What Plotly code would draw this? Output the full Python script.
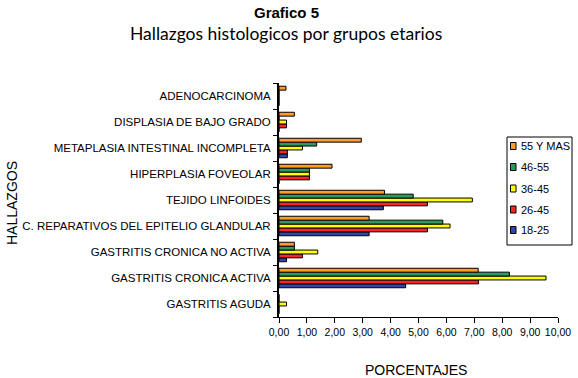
import plotly.graph_objects as go

categories = [
    "GASTRITIS AGUDA",
    "GASTRITIS CRONICA ACTIVA",
    "GASTRITIS CRONICA NO ACTIVA",
    "C. REPARATIVOS DEL EPITELIO GLANDULAR",
    "TEJIDO LINFOIDES",
    "HIPERPLASIA FOVEOLAR",
    "METAPLASIA INTESTINAL INCOMPLETA",
    "DISPLASIA DE BAJO GRADO",
    "ADENOCARCINOMA",
]

g_18_25 = [0.0, 4.54, 0.27, 3.23, 3.74, 0.0, 0.30, 0.0, 0.0]
g_26_45 = [0.0, 7.15, 0.84, 5.32, 5.32, 1.09, 0.30, 0.27, 0.0]
g_36_45 = [0.27, 9.57, 1.39, 6.13, 6.93, 1.09, 0.84, 0.27, 0.0]
g_46_55 = [0.0, 8.26, 0.55, 5.87, 4.81, 1.09, 1.35, 0.0, 0.0]
g_55_mas = [0.0, 7.14, 0.55, 3.23, 3.78, 1.90, 2.95, 0.55, 0.25]

series_names = ["18-25", "26-45", "36-45", "46-55", "55 Y MAS"]
series_colors = ["#3344AA", "#FF2424", "#FFFF00", "#2E9A60", "#FF9A2E"]
series_values = [g_18_25, g_26_45, g_36_45, g_46_55, g_55_mas]

x_ticks = [0, 1, 2, 3, 4, 5, 6, 7, 8, 9, 10]
x_tick_labels = ["0,00", "1,00", "2,00", "3,00", "4,00", "5,00", "6,00", "7,00", "8,00", "9,00", "10,00"]

W, H = 578, 378
L, R, T, B = 279, 20, 83, 61
PW, PH = W - L - R, H - T - B


def px_x(p):
    return (p - L) / PW


def px_y(p):
    return (H - B - p) / PH


fig = go.Figure()
for name, vals, color in zip(series_names, series_values, series_colors):
    fig.add_trace(go.Bar(
        y=categories, x=vals, name=name, orientation="h",
        marker=dict(color=color, line=dict(color="black", width=1)),
    ))

font_main = "Liberation Sans, Arial, sans-serif"

fig.update_layout(
    width=W, height=H,
    margin=dict(l=L, r=R, t=T, b=B, autoexpand=False),
    paper_bgcolor="white", plot_bgcolor="white",
    barmode="group", bargap=0.25, bargroupgap=0,
    showlegend=False,
    xaxis=dict(
        range=[0, 10], tickvals=x_ticks, ticktext=x_tick_labels,
        showgrid=False, zeroline=False, automargin=False,
        showline=True, linecolor="black", linewidth=1,
        ticks="outside", ticklen=5, tickcolor="black", tickangle=0,
        tickfont=dict(family=font_main, size=10.5, color="black"),
    ),
    yaxis=dict(
        showgrid=False, zeroline=False, automargin=False,
        showline=True, linecolor="black", linewidth=2,
        ticks="outside", ticklen=4, tickcolor="black", tickson="boundaries",
        ticklabelstandoff=4,
        tickfont=dict(family=font_main, size=11.5, color="black"),
    ),
)

# custom legend box (top entry = last series)
fig.add_shape(type="rect", xref="paper", yref="paper",
              x0=px_x(507), x1=px_x(572), y0=px_y(245), y1=px_y(137),
              line=dict(color="black", width=1), fillcolor="white", layer="above")
legend_y = [230, 209.5, 188.5, 167, 146]
for name, color, yc in zip(series_names, series_colors, legend_y):
    fig.add_shape(type="rect", xref="paper", yref="paper",
                  x0=px_x(510.5), x1=px_x(516), y0=px_y(yc + 3.5), y1=px_y(yc - 3.5),
                  line=dict(color="black", width=1), fillcolor=color, layer="above")
    fig.add_annotation(text=name, xref="paper", yref="paper",
                       x=px_x(518.5), y=px_y(yc), xanchor="left", yanchor="middle",
                       showarrow=False,
                       font=dict(family=font_main, size=11, color="black"))

fig.add_annotation(text="<b>Grafico 5</b>", xref="paper", yref="paper",
                   x=px_x(286), y=px_y(13), xanchor="center", yanchor="middle",
                   showarrow=False,
                   font=dict(family="Liberation Sans Narrow, Arial Narrow, sans-serif", size=15, color="black"))
fig.add_annotation(text="Hallazgos histologicos por grupos etarios", xref="paper", yref="paper",
                   x=px_x(286), y=px_y(33), xanchor="center", yanchor="middle",
                   showarrow=False,
                   font=dict(family="Lato, Open Sans, sans-serif", size=17.5, color="black"))
fig.add_annotation(text="PORCENTAJES", xref="paper", yref="paper",
                   x=px_x(416), y=px_y(370), xanchor="center", yanchor="middle",
                   showarrow=False,
                   font=dict(family=font_main, size=14, color="black"))
fig.add_annotation(text="HALLAZGOS", xref="paper", yref="paper",
                   x=px_x(12), y=px_y(203), xanchor="center", yanchor="middle",
                   showarrow=False, textangle=-90,
                   font=dict(family=font_main, size=14, color="black"))

fig.write_html("out.html", config={"displayModeBar": False},
               post_script="document.body.style.margin='0';document.body.style.padding='0';")
